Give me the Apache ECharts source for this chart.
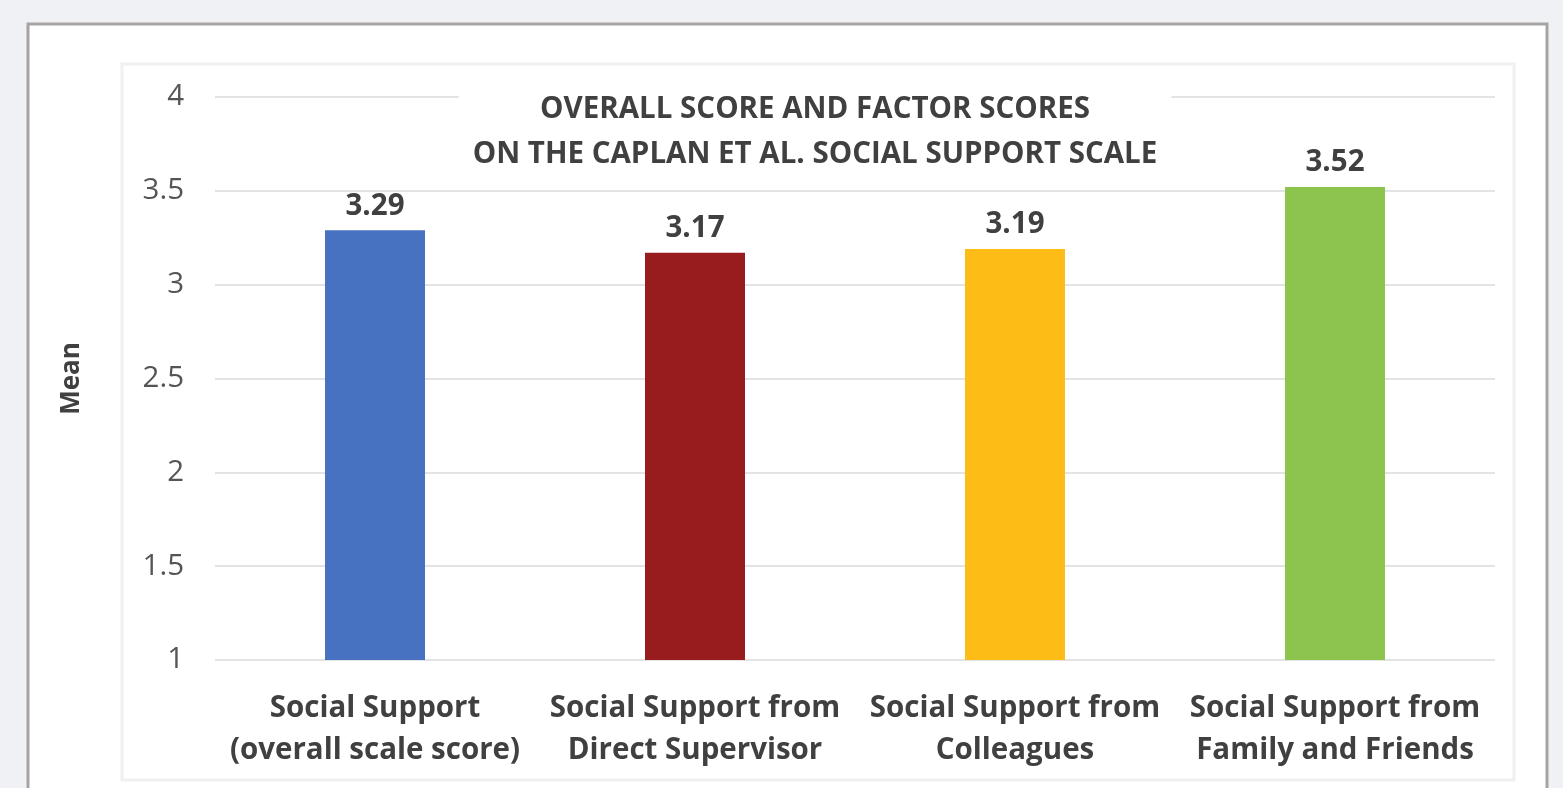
<!DOCTYPE html>
<html>
<head>
<meta charset="utf-8">
<script src="https://cdn.jsdelivr.net/npm/echarts@6/dist/echarts.min.js"></script>
<style>
html,body{margin:0;padding:0;background:#eff1f4;}
#c{width:1563px;height:788px;}
</style>
</head>
<body>
<div id="c"></div>
<script>
const categories = ['Social Support\n(overall scale score)', 'Social Support from\nDirect Supervisor', 'Social Support from\nColleagues', 'Social Support from\nFamily and Friends'];
const values = [3.29, 3.17, 3.19, 3.52];
const barColors = ['#4672c1', '#981b1e', '#fdbd16', '#8cc44d'];
const titleLines = ['OVERALL SCORE AND FACTOR SCORES', 'ON THE CAPLAN ET AL. SOCIAL SUPPORT SCALE'];
const yAxisName = 'Mean';

const FONT = 'Open Sans';
const chart = echarts.init(document.getElementById('c'));
chart.setOption({
  backgroundColor: '#eff1f4',
  animation: false,
  graphic: [
    { type: 'rect', z: -10, shape: { x: 28, y: 24, width: 1519, height: 800 }, style: { fill: '#ffffff', stroke: '#a7a3a3', lineWidth: 3 } },
    { type: 'rect', z: -9, shape: { x: 122, y: 64, width: 1392, height: 716 }, style: { fill: '#ffffff', stroke: '#f0f0f0', lineWidth: 3 } },
    { type: 'text', z: 100, x: 815, y: 87, style: {
        text: titleLines.join('\n'), align: 'center', verticalAlign: 'top',
        font: 'bold 29.5px ' + FONT, fill: '#404040', lineHeight: 45,
        backgroundColor: '#ffffff', padding: [0, 14, 0, 14]
    } }
  ],
  grid: { left: 215, right: 68, top: 97, bottom: 128 },
  xAxis: {
    type: 'category', data: categories,
    axisLine: { show: false }, axisTick: { show: false },
    axisLabel: { fontFamily: FONT, fontWeight: 'bold', fontSize: 29.5, color: '#404040', lineHeight: 42, margin: 28, interval: 0 }
  },
  yAxis: {
    type: 'value', min: 1, max: 4, interval: 0.5,
    name: yAxisName, nameLocation: 'middle', nameRotate: 90, nameGap: 130,
    nameTextStyle: { fontFamily: FONT, fontWeight: 'bold', fontSize: 26, color: '#404040' },
    axisLine: { show: false }, axisTick: { show: false },
    axisLabel: { fontFamily: FONT, fontSize: 29.5, color: '#555555', margin: 31 },
    splitLine: { lineStyle: { color: '#e3e3e3', width: 2 } }
  },
  series: [{
    type: 'bar', data: values.map((v, i) => ({ value: v, itemStyle: { color: barColors[i] } })),
    barWidth: 100,
    label: { show: true, position: 'top', distance: 9, fontFamily: FONT, fontWeight: 'bold', fontSize: 29.5, color: '#404040', formatter: p => p.value.toFixed(2) }
  }]
});
</script>
</body>
</html>
